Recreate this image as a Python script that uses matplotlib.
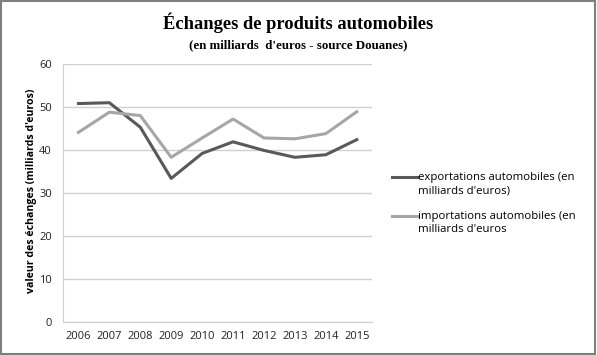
import numpy as np
import matplotlib.pyplot as plt
from matplotlib.patches import Rectangle
from matplotlib.legend_handler import HandlerLine2D

annees = ['2006', '2007', '2008', '2009', '2010', '2011', '2012', '2013', '2014', '2015']
exportations = [50.8, 51.0, 45.3, 33.4, 39.2, 41.9, 39.9, 38.3, 38.9, 42.4]
importations = [44.1, 48.8, 48.0, 38.3, 42.8, 47.2, 42.8, 42.6, 43.8, 48.9]


# trait de legende aligne sur la premiere ligne du texte
class HandlerHaut(HandlerLine2D):
    def create_artists(self, legend, orig_handle, xdescent, ydescent, width, height, fontsize, trans):
        return super().create_artists(legend, orig_handle, xdescent, ydescent - 10.8,
                                      width, height, fontsize, trans)


fig = plt.figure(figsize=(5.97, 3.55), dpi=100)
ax = fig.add_axes([0.1055, 0.093, 0.518, 0.7267])

x = np.arange(len(annees))
l1, = ax.plot(x, exportations, color='#595959', lw=2.2, label="exportations automobiles (en\nmilliards d'euros)")
l2, = ax.plot(x, importations, color='#a6a6a6', lw=2.2, label="importations automobiles (en\nmilliards d'euros")

ax.set_xlim(-0.5, len(annees) - 0.5)
ax.set_ylim(0, 60)
ax.set_yticks(range(0, 61, 10))
ax.set_xticks(x)
ax.set_xticklabels(annees)
ax.grid(axis='y', color='#d0d0d0', lw=1)
ax.set_axisbelow(True)
for s in ['top', 'right']:
    ax.spines[s].set_visible(False)
ax.spines['left'].set_color('#d0d0d0')
ax.spines['bottom'].set_color('#d0d0d0')
ax.tick_params(length=0, labelsize=8, colors='#222222')
ax.tick_params(axis='y', pad=8)
ax.tick_params(axis='x', pad=6.5)
for lab in ax.get_xticklabels() + ax.get_yticklabels():
    lab.set_family('Open Sans')

ax.set_ylabel("valeur des échanges (milliards d'euros)", fontsize=7.6, fontweight='bold',
              family='Open Sans')
ax.yaxis.set_label_coords(-0.083, 0.51)

fig.text(0.5, 0.937, "Échanges de produits automobiles", ha='center', va='center',
         family='Liberation Serif', fontweight='bold', fontsize=13.3)
fig.text(0.5, 0.873, "(en milliards  d'euros - source Douanes)", ha='center', va='center',
         family='Liberation Serif', fontweight='bold', fontsize=9.3)

leg = fig.legend(loc='upper left', bbox_to_anchor=(0.656, 0.515), frameon=False,
                 prop={'family': 'Open Sans', 'size': 8.2}, handlelength=2.3,
                 handletextpad=0.05, labelspacing=1.2, borderpad=0, borderaxespad=0,
                 handler_map={l1: HandlerHaut(), l2: HandlerHaut()})
for t in leg.get_texts():
    t.set_linespacing(1.35)

fig.patches.append(Rectangle((0.002, 0.003), 0.995, 0.994, transform=fig.transFigure,
                             fill=False, edgecolor='#7f7f7f', lw=1.5))

fig.savefig('out.png', dpi=100)
